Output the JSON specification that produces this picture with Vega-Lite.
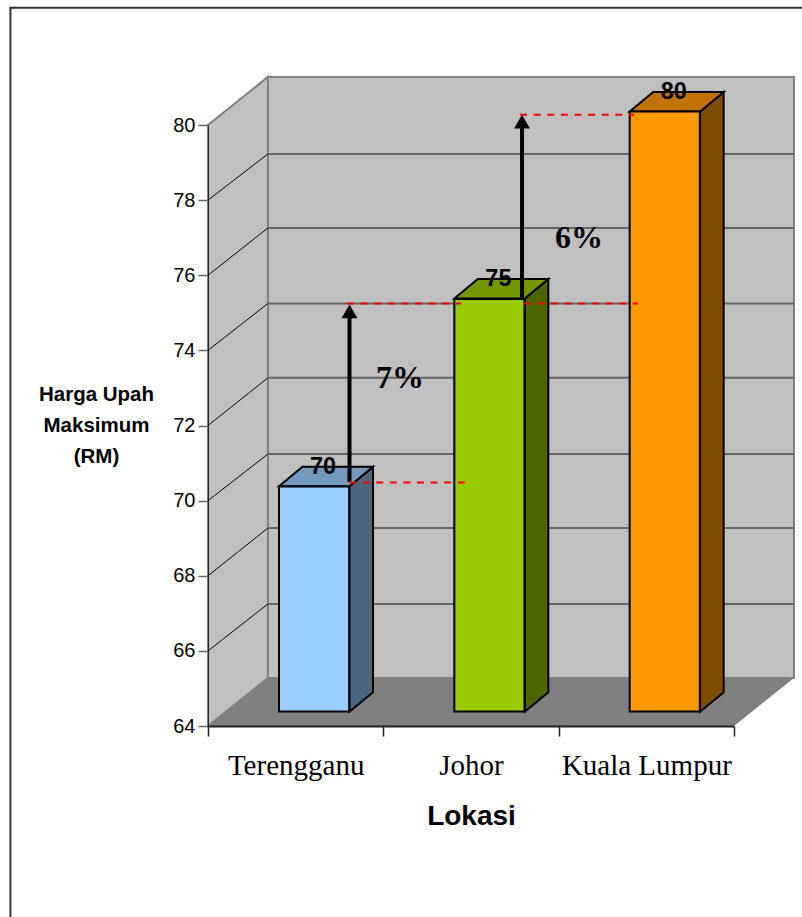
{
"$schema":"https://vega.github.io/schema/vega-lite/v6.json",
"width":526,"height":601,"autosize":"none",
"padding":{"left":208,"top":125,"right":68,"bottom":191},
"background":"white",
"config":{"view":{"stroke":null}},
"datasets":{
"upah":[{"lokasi":"Terengganu","upah":70},{"lokasi":"Johor","upah":75},{"lokasi":"Kuala Lumpur","upah":80}],
"bingkai":[{"u":-1.127,"v":58.9},{"u":-1.127,"v":83.12},{"u":3.4,"v":83.12}],
"dinding":[
{"muka":"kiri","u":0,"v":80,"v2":64},{"muka":"kiri","u":0.342,"v":81.28,"v2":65.28},
{"muka":"belakang","u":0.342,"v":81.28,"v2":65.28},{"muka":"belakang","u":3.342,"v":81.28,"v2":65.28}],
"lantai":[{"u":0,"v":64,"v2":64},{"u":0.342,"v":65.28,"v2":64},{"u":3,"v":65.28,"v2":64},{"u":3.342,"v":65.28,"v2":65.28}],
"grid":[{"v":79.23,"u":0.342,"u2":3.342},{"v":77.26,"u":0.342,"u2":3.342},{"v":75.25,"u":0.342,"u2":3.342},{"v":73.27,"u":0.342,"u2":3.342},{"v":71.24,"u":0.342,"u2":3.342},{"v":69.27,"u":0.342,"u2":3.342},{"v":67.25,"u":0.342,"u2":3.342}],
"diagonal":[
{"t":66,"u":0,"v":66},{"t":66,"u":0.342,"v":67.25},{"t":68,"u":0,"v":68},{"t":68,"u":0.342,"v":69.27},
{"t":70,"u":0,"v":70},{"t":70,"u":0.342,"v":71.24},{"t":72,"u":0,"v":72},{"t":72,"u":0.342,"v":73.27},
{"t":74,"u":0,"v":74},{"t":74,"u":0.342,"v":75.25},{"t":76,"u":0,"v":76},{"t":76,"u":0.342,"v":77.26},
{"t":78,"u":0,"v":78},{"t":78,"u":0.342,"v":79.23}],
"sisi":[
{"lokasi":"Terengganu","u":0.807,"v":70.38,"v2":64.38},{"lokasi":"Terengganu","u":0.941,"v":70.9,"v2":64.9},
{"lokasi":"Johor","u":1.807,"v":75.38,"v2":64.38},{"lokasi":"Johor","u":1.941,"v":75.9,"v2":64.9},
{"lokasi":"Kuala Lumpur","u":2.807,"v":80.36,"v2":64.38},{"lokasi":"Kuala Lumpur","u":2.941,"v":80.88,"v2":64.9}],
"atas":[
{"lokasi":"Terengganu","u":0.405,"v":70.38,"v2":70.38},{"lokasi":"Terengganu","u":0.539,"v":70.9,"v2":70.38},{"lokasi":"Terengganu","u":0.807,"v":70.9,"v2":70.38},{"lokasi":"Terengganu","u":0.941,"v":70.9,"v2":70.9},
{"lokasi":"Johor","u":1.405,"v":75.38,"v2":75.38},{"lokasi":"Johor","u":1.539,"v":75.9,"v2":75.38},{"lokasi":"Johor","u":1.807,"v":75.9,"v2":75.38},{"lokasi":"Johor","u":1.941,"v":75.9,"v2":75.9},
{"lokasi":"Kuala Lumpur","u":2.405,"v":80.36,"v2":80.36},{"lokasi":"Kuala Lumpur","u":2.539,"v":80.88,"v2":80.36},{"lokasi":"Kuala Lumpur","u":2.807,"v":80.88,"v2":80.36},{"lokasi":"Kuala Lumpur","u":2.941,"v":80.88,"v2":80.88}],
"merah":[{"u":0.804,"u2":1.471,"v":70.48},{"u":0.793,"u2":1.443,"v":75.25},{"u":1.802,"u2":2.452,"v":75.25},{"u":1.78,"u2":2.43,"v":80.27}],
"panah":[{"u":0.807,"v":70.5,"v2":75.0},{"u":1.791,"v":75.4,"v2":80.0}],
"kepala":[{"u":0.807,"v":75.04},{"u":1.791,"v":80.09}],
"peratus":[{"teks":"7%","u":1.095,"v":73.27},{"teks":"6%","u":2.116,"v":76.99}]
},
"layer":[
{
 "encoding":{
  "x":{"field":"u","type":"quantitative","scale":{"domain":[0,3],"nice":false,"zero":false},"axis":null},
  "y":{"field":"v","type":"quantitative","scale":{"domain":[64,80],"nice":false,"zero":false},
   "axis":{"values":[64,66,68,70,72,74,76,78,80],"grid":false,"zindex":1,"domainColor":"#222222","domainWidth":1,"tickColor":"#666666","tickWidth":1.5,"tickSize":10,"labelFont":"Liberation Sans","labelFontSize":20,"labelColor":"black","labelPadding":3,
    "title":["Harga Upah","Maksimum","(RM)"],"titleFont":"Liberation Sans","titleFontSize":20.5,"titleFontWeight":"bold","titleColor":"black","titleAngle":0,"titleAlign":"center","titleBaseline":"middle","titleX":-112,"titleY":269,"titleLineHeight":31}}
 },
 "layer":[
  {"data":{"name":"bingkai"},"mark":{"type":"line","stroke":"#333333","strokeWidth":2,"clip":false}},
  {"data":{"name":"dinding"},"mark":{"type":"area","orient":"vertical","fill":"#C0C0C0","stroke":"#808080","strokeWidth":2},"encoding":{"y2":{"field":"v2"},"detail":{"field":"muka"}}},
  {"data":{"name":"lantai"},"mark":{"type":"area","orient":"vertical","fill":"#808080"},"encoding":{"y2":{"field":"v2"}}},
  {"data":{"name":"grid"},"mark":{"type":"rule","stroke":"#666666","strokeWidth":2},"encoding":{"x2":{"field":"u2"}}},
  {"data":{"name":"diagonal"},"mark":{"type":"line","stroke":"black","strokeWidth":1},"encoding":{"detail":{"field":"t"}}}
 ]
},
{
 "data":{"name":"upah"},
 "mark":{"type":"bar","opacity":0},
 "encoding":{
  "x":{"field":"lokasi","type":"nominal","sort":null,"scale":{"domain":["Terengganu","Johor","Kuala Lumpur"],"paddingInner":0,"paddingOuter":0},
   "axis":{"title":"Lokasi","titleFont":"Liberation Sans","titleFontSize":28,"titleFontWeight":"bold","titleColor":"black","titlePadding":22,"labelFont":"Liberation Serif","labelFontSize":29,"labelColor":"black","labelAngle":0,"labelPadding":15,"labelOverlap":false,"tickBand":"extent","tickSize":10,"tickColor":"#222222","tickWidth":1.5,"domainColor":"#222222","domainWidth":2,"zindex":1}}
 }
},
{
 "encoding":{
  "x":{"field":"u","type":"quantitative","scale":{"domain":[0,3],"nice":false,"zero":false},"axis":null},
  "y":{"field":"v","type":"quantitative","scale":{"domain":[64,80],"nice":false,"zero":false},"axis":null},
  "y2":{"field":"v2"}
 },
 "layer":[
  {"data":{"name":"sisi"},"mark":{"type":"area","orient":"vertical","stroke":"black","strokeWidth":2},
   "encoding":{"color":{"field":"lokasi","type":"nominal","legend":null,"scale":{"domain":["Terengganu","Johor","Kuala Lumpur"],"range":["#4D6680","#4D6600","#804D00"]}}}},
  {"data":{"name":"atas"},"mark":{"type":"area","orient":"vertical","stroke":"black","strokeWidth":2},
   "encoding":{"color":{"field":"lokasi","type":"nominal","legend":null,"scale":{"domain":["Terengganu","Johor","Kuala Lumpur"],"range":["#7399BF","#739900","#BF7300"]}}}}
 ],
 "resolve":{"scale":{"color":"independent"}}
},
{
 "data":{"name":"upah"},
 "encoding":{
  "x":{"field":"lokasi","type":"nominal","sort":null,"axis":null,"scale":{"domain":["Terengganu","Johor","Kuala Lumpur"],"range":[18.4,544.4],"paddingInner":0.6,"paddingOuter":0.3}},
  "y":{"field":"upah","type":"quantitative","axis":null,"scale":{"domain":[64,80],"range":[586.5,-13.5],"nice":false,"zero":false}}
 },
 "layer":[
  {"mark":{"type":"bar","stroke":"black","strokeWidth":2},
   "encoding":{"y2":{"datum":64},"color":{"field":"lokasi","type":"nominal","legend":null,"scale":{"domain":["Terengganu","Johor","Kuala Lumpur"],"range":["#99CCFF","#99CC00","#FF9900"]}}}},
  {"mark":{"type":"text","font":"Liberation Sans","fontWeight":"bold","fontSize":23.5,"color":"black","dx":9,"dy":-20,"baseline":"middle"},
   "encoding":{"text":{"field":"upah","type":"quantitative"}}}
 ]
},
{
 "encoding":{
  "x":{"field":"u","type":"quantitative","scale":{"domain":[0,3],"nice":false,"zero":false},"axis":null},
  "y":{"field":"v","type":"quantitative","scale":{"domain":[64,80],"nice":false,"zero":false},"axis":null}
 },
 "layer":[
  {"data":{"name":"panah"},"mark":{"type":"rule","stroke":"black","strokeWidth":4},"encoding":{"y2":{"field":"v2"}}},
  {"data":{"name":"kepala"},"mark":{"type":"point","shape":"triangle-up","filled":true,"color":"black","size":250,"opacity":1}},
  {"data":{"name":"merah"},"mark":{"type":"rule","stroke":"#FF0000","strokeWidth":2,"strokeDash":[7,6.6]},"encoding":{"x2":{"field":"u2"}}},
  {"data":{"name":"peratus"},"mark":{"type":"text","font":"Liberation Serif","fontWeight":"bold","fontSize":32,"color":"black","baseline":"middle"},"encoding":{"text":{"field":"teks"}}}
 ]
}
],
"resolve":{"scale":{"x":"independent","y":"independent","color":"independent"},"axis":{"x":"independent","y":"independent"}}
}
